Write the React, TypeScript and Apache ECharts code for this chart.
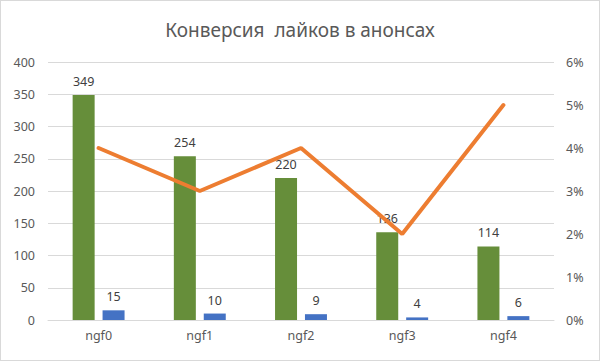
import React, { useEffect, useRef } from "react";
import * as echarts from "echarts";

const categories = ["ngf0", "ngf1", "ngf2", "ngf3", "ngf4"];
const likes = [349, 254, 220, 136, 114];
const announces = [15, 10, 9, 4, 6];
const conversion = [0.04, 0.03, 0.04, 0.02, 0.05];
const leftTicks = { min: 0, max: 400, interval: 50 };
const rightTicks = { min: 0, max: 0.06, interval: 0.01 };

const FONT = "'Noto Sans', 'Open Sans', sans-serif";

export default function App() {
  const ref = useRef<HTMLDivElement>(null);
  useEffect(() => {
    if (!ref.current) return;
    const chart = echarts.init(ref.current, undefined, { renderer: "svg" });
    const labelStyle = {
      show: true,
      position: "top" as const,
      distance: 7,
      color: "#404040",
      fontSize: 12.5,
      fontFamily: FONT,
    };
    chart.setOption({
      animation: false,
      backgroundColor: "#ffffff",
      title: {
        text: "Конверсия  лайков в анонсах",
        left: "center",
        top: 14,
        textStyle: { color: "#595959", fontSize: 19, fontWeight: "normal", fontFamily: FONT },
      },
      grid: { left: 47, right: 45, top: 61, bottom: 40 },
      xAxis: {
        type: "category",
        data: categories,
        axisLine: { lineStyle: { color: "#d9d9d9" } },
        axisTick: { show: false },
        axisLabel: { color: "#595959", fontSize: 12.5, fontFamily: FONT, margin: 9 },
      },
      yAxis: [
        {
          type: "value",
          ...leftTicks,
          axisLine: { show: false },
          axisTick: { show: false },
          axisLabel: { color: "#595959", fontSize: 12.5, fontFamily: FONT, margin: 13 },
          splitLine: { lineStyle: { color: "#d9d9d9" } },
        },
        {
          type: "value",
          ...rightTicks,
          position: "right",
          axisLine: { show: false },
          axisTick: { show: false },
          splitLine: { show: false },
          axisLabel: {
            color: "#595959",
            fontSize: 12.5,
            fontFamily: FONT,
            margin: 12,
            formatter: (v: number) => Math.round(v * 100) + "%",
          },
        },
      ],
      series: [
        {
          type: "bar",
          data: likes,
          barWidth: 22,
          barGap: "36%",
          itemStyle: { color: "#668E3A" },
          label: labelStyle,
        },
        {
          type: "bar",
          data: announces,
          barWidth: 22,
          itemStyle: { color: "#4472C4" },
          label: labelStyle,
        },
        {
          type: "line",
          yAxisIndex: 1,
          data: conversion,
          symbol: "none",
          lineStyle: { color: "#ED7D31", width: 4, cap: "round" },
          z: 5,
        },
      ],
    });
    return () => chart.dispose();
  }, []);
  return (
    <div
      ref={ref}
      style={{
        position: "fixed",
        left: 0,
        top: 0,
        width: 600,
        height: 361,
        boxSizing: "border-box",
        border: "1px solid #d9d9d9",
      }}
    />
  );
}
